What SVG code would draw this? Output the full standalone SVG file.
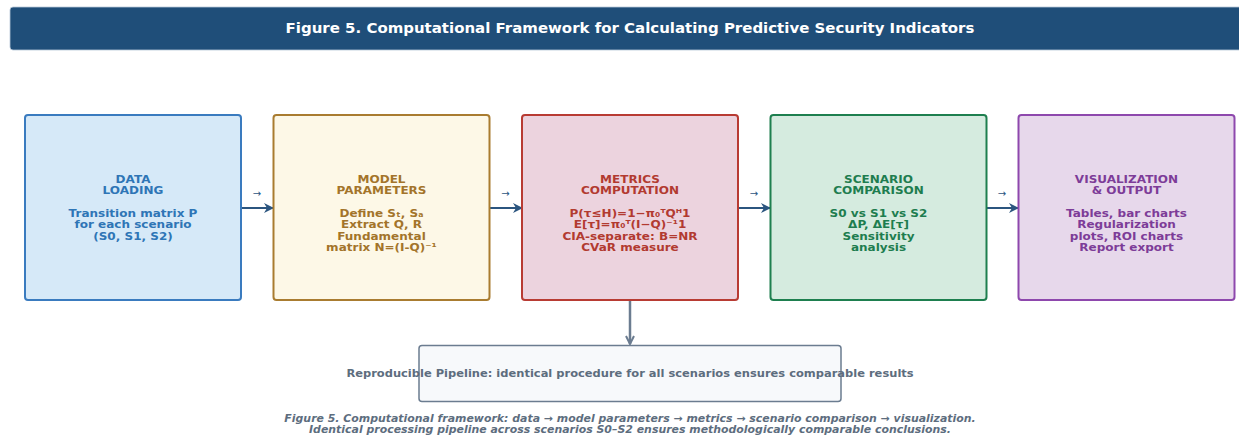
<svg xmlns="http://www.w3.org/2000/svg" width="1239" height="435" viewBox="0 0 1239 435">
  <style>
    text { font-family: "DejaVu Sans", "Liberation Sans", sans-serif; font-weight: bold; text-anchor: middle; }
    .title { fill: #ffffff; font-size: 13.7px; }
    .lbl { font-size: 11px; }
    .step { font-size: 10px; fill: #2b557f; font-weight: normal; }
    .box { stroke-width: 2; }
    .flow { stroke: #2b557f; stroke-width: 2; fill: none; }
    .down { stroke: #6b7c90; stroke-width: 2.5; fill: none; }
    .pipe { font-size: 10.5px; fill: #5d6d7e; }
    .cap { font-size: 10px; font-style: italic; fill: #5d6d7e; }
  </style>
  <defs>
    <marker id="ah" viewBox="0 0 10 10" refX="9" refY="5" markerWidth="5" markerHeight="5" orient="auto" markerUnits="strokeWidth">
      <path d="M0,0 L10,5 L0,10 L3,5 Z" fill="#2b557f"/>
    </marker>
    <marker id="ahg" viewBox="0 0 10 10" refX="9" refY="5" markerWidth="4" markerHeight="4" orient="auto" markerUnits="strokeWidth">
      <path d="M1,1 L9,5 L1,9" fill="none" stroke="#6b7c90" stroke-width="2"/>
    </marker>
  </defs>

  <rect width="1239" height="435" fill="#ffffff"/>

  <!-- header bar; text groups are widened 1.093x about their centre line -->
  <g id="header">
    <rect x="10" y="7" width="1240" height="43" rx="3" fill="#1f4e79" stroke="#b8c8d8" stroke-width="0.8"/>
    <g transform="matrix(1.093 0 0 1 -58.59 0)">
      <text class="title" x="630" y="33">Figure 5. Computational Framework for Calculating Predictive Security Indicators</text>
    </g>
  </g>

  <!-- connectors -->
  <g id="connectors">
    <line class="flow" x1="238" y1="208" x2="273" y2="208" marker-end="url(#ah)"/>
    <line class="flow" x1="487" y1="208" x2="522" y2="208" marker-end="url(#ah)"/>
    <line class="flow" x1="735" y1="208" x2="770" y2="208" marker-end="url(#ah)"/>
    <line class="flow" x1="983" y1="208" x2="1018" y2="208" marker-end="url(#ah)"/>
    <text class="step" x="257" y="196.5">→</text>
    <text class="step" x="505.5" y="196.5">→</text>
    <text class="step" x="754" y="196.5">→</text>
    <text class="step" x="1002" y="196.5">→</text>
    <line class="down" x1="630" y1="300" x2="630" y2="344" marker-end="url(#ahg)"/>
  </g>

  <g id="data-loading">
    <rect class="box" x="25" y="115" width="216" height="185" rx="3" fill="#d6e9f8" stroke="#3a7bbf"/>
    <g class="lbl" fill="#2e75b6" transform="matrix(1.093 0 0 1 -12.37 0)">
      <text x="133" y="183">DATA</text>
      <text x="133" y="194.3">LOADING</text>
      <text x="133" y="217">Transition matrix P</text>
      <text x="133" y="228.4">for each scenario</text>
      <text x="133" y="239.7">(S0, S1, S2)</text>
    </g>
  </g>

  <g id="model-parameters">
    <rect class="box" x="273.5" y="115" width="216" height="185" rx="3" fill="#fdf8e7" stroke="#a97c30"/>
    <g class="lbl" fill="#a3742a" transform="matrix(1.093 0 0 1 -35.48 0)">
      <text x="381.5" y="183">MODEL</text>
      <text x="381.5" y="194.3">PARAMETERS</text>
      <text x="381.5" y="217">Define Sₜ, Sₐ</text>
      <text x="381.5" y="228.4">Extract Q, R</text>
      <text x="381.5" y="239.7">Fundamental</text>
      <text x="381.5" y="251">matrix N=(I-Q)⁻¹</text>
    </g>
  </g>

  <g id="metrics-computation">
    <rect class="box" x="522" y="115" width="216" height="185" rx="3" fill="#ecd3de" stroke="#b83b33"/>
    <g class="lbl" fill="#b23a30" transform="matrix(1.093 0 0 1 -58.59 0)">
      <text x="630" y="183">METRICS</text>
      <text x="630" y="194.3">COMPUTATION</text>
      <text x="630" y="217">P(τ≤H)=1−π₀ᵀQᴴ1</text>
      <text x="630" y="228.4">E[τ]=π₀ᵀ(I−Q)⁻¹1</text>
      <text x="630" y="239.7">CIA-separate: B=NR</text>
      <text x="630" y="251">CVaR measure</text>
    </g>
  </g>

  <g id="scenario-comparison">
    <rect class="box" x="770.5" y="115" width="216" height="185" rx="3" fill="#d5ebdf" stroke="#1e7f4f"/>
    <g class="lbl" fill="#1e7d4f" transform="matrix(1.093 0 0 1 -81.70 0)">
      <text x="878.5" y="183">SCENARIO</text>
      <text x="878.5" y="194.3">COMPARISON</text>
      <text x="878.5" y="217">S0 vs S1 vs S2</text>
      <text x="878.5" y="228.4">ΔP, ΔE[τ]</text>
      <text x="878.5" y="239.7">Sensitivity</text>
      <text x="878.5" y="251">analysis</text>
    </g>
  </g>

  <g id="visualization-output">
    <rect class="box" x="1018.5" y="115" width="216" height="185" rx="3" fill="#e7d8eb" stroke="#8e48ad"/>
    <g class="lbl" fill="#7d3c98" transform="matrix(1.093 0 0 1 -104.76 0)">
      <text x="1126.5" y="183">VISUALIZATION</text>
      <text x="1126.5" y="194.3">&amp; OUTPUT</text>
      <text x="1126.5" y="217">Tables, bar charts</text>
      <text x="1126.5" y="228.4">Regularization</text>
      <text x="1126.5" y="239.7">plots, ROI charts</text>
      <text x="1126.5" y="251">Report export</text>
    </g>
  </g>

  <g id="pipeline">
    <rect x="419" y="345.5" width="422" height="56" rx="3" fill="#f7f9fb" stroke="#6b7c90" stroke-width="1.5"/>
    <g transform="matrix(1.093 0 0 1 -58.59 0)">
      <text class="pipe" x="630" y="377">Reproducible Pipeline: identical procedure for all scenarios ensures comparable results</text>
    </g>
  </g>

  <g id="caption">
    <g transform="matrix(1.093 0 0 1 -58.59 0)">
      <text class="cap" x="630" y="422">Figure 5. Computational framework: data → model parameters → metrics → scenario comparison → visualization.</text>
      <text class="cap" x="630" y="433">Identical processing pipeline across scenarios S0–S2 ensures methodologically comparable conclusions.</text>
    </g>
  </g>
</svg>
